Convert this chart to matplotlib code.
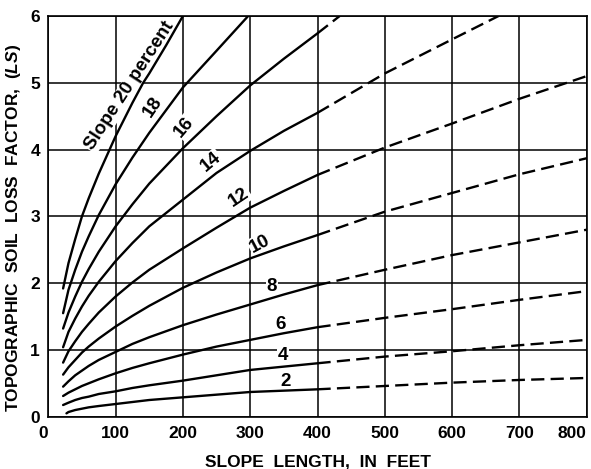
import matplotlib
matplotlib.use("Agg")
import matplotlib.pyplot as plt

plt.rcParams['font.family'] = ['Liberation Sans', 'DejaVu Sans']
plt.rcParams['mathtext.fontset'] = 'custom'
plt.rcParams['mathtext.it'] = 'Liberation Sans:italic:bold'
plt.rcParams['mathtext.rm'] = 'Liberation Sans:bold'
plt.rcParams['lines.scale_dashes'] = False

# ---- data (slope length in feet -> LS factor) ----
slopes = [20, 18, 16, 14, 12, 10, 8, 6, 4, 2]

x20 = [22, 30, 40, 50, 60, 75, 100, 125, 141, 150, 175, 200]
y20 = [1.92, 2.30, 2.66, 3.00, 3.27, 3.64, 4.20, 4.70, 5.00, 5.14, 5.56, 6.00]

x18 = [22, 30, 40, 50, 60, 75, 100, 125, 150, 200, 250, 297]
y18 = [1.55, 1.90, 2.20, 2.47, 2.70, 3.02, 3.48, 3.88, 4.25, 4.93, 5.48, 6.00]

x16 = [22, 30, 40, 50, 60, 75, 100, 125, 150, 200, 250, 300, 350, 400, 433]
y16 = [1.32, 1.56, 1.80, 2.02, 2.21, 2.47, 2.85, 3.18, 3.49, 4.02, 4.50, 4.96, 5.36, 5.74, 6.00]

x14 = [22, 30, 40, 50, 60, 75, 100, 125, 150, 200, 250, 300, 350, 400, 500, 600, 669]
y14 = [1.04, 1.27, 1.47, 1.65, 1.81, 2.02, 2.33, 2.60, 2.85, 3.25, 3.65, 3.98, 4.28, 4.55, 5.14, 5.65, 6.00]

x_full = [22, 30, 40, 50, 60, 75, 100, 125, 150, 200, 250, 300, 350, 400, 500, 600, 700, 800]
y12 = [0.81, 0.98, 1.13, 1.27, 1.39, 1.56, 1.80, 2.01, 2.20, 2.52, 2.83, 3.13, 3.38, 3.62, 4.03, 4.39, 4.76, 5.10]
y10 = [0.63, 0.74, 0.85, 0.96, 1.05, 1.17, 1.35, 1.51, 1.66, 1.93, 2.16, 2.37, 2.55, 2.72, 3.07, 3.35, 3.63, 3.87]
y8 = [0.45, 0.53, 0.62, 0.69, 0.76, 0.85, 0.97, 1.09, 1.19, 1.37, 1.53, 1.68, 1.83, 1.97, 2.20, 2.42, 2.61, 2.80]
y6 = [0.31, 0.36, 0.41, 0.46, 0.50, 0.56, 0.65, 0.73, 0.80, 0.93, 1.05, 1.15, 1.25, 1.34, 1.48, 1.61, 1.75, 1.88]
y4 = [0.175, 0.21, 0.25, 0.28, 0.30, 0.34, 0.38, 0.43, 0.47, 0.54, 0.62, 0.70, 0.75, 0.80, 0.90, 0.98, 1.07, 1.15]

x2 = [27, 30, 40, 50, 60, 75, 100, 125, 150, 200, 250, 300, 350, 400, 500, 600, 700, 800]
y2 = [0.05, 0.07, 0.10, 0.12, 0.14, 0.16, 0.19, 0.22, 0.25, 0.29, 0.33, 0.37, 0.39, 0.41, 0.46, 0.51, 0.55, 0.58]

curves = [(x20, y20), (x18, y18), (x16, y16), (x14, y14), (x_full, y12),
          (x_full, y10), (x_full, y8), (x_full, y6), (x_full, y4), (x2, y2)]

solid_limit = 400

label_texts = ["Slope 20 percent", "18", "16", "14", "12", "10", "8", "6", "4", "2"]
label_pos = [(121, 4.95), (156, 4.64), (202, 4.34), (242, 3.82), (284, 3.29),
             (314, 2.59), (332, 1.95), (345, 1.38), (349, 0.91), (353, 0.53)]
label_rot = [57, 56, 50, 40, 34, 28, 0, 0, 0, 0]

x_ticks = [0, 100, 200, 300, 400, 500, 600, 700, 800]
y_ticks = [0, 1, 2, 3, 4, 5, 6]

# ---- figure ----
W, H = 591, 469
fig = plt.figure(figsize=(W / 100, H / 100), dpi=100)
L, R, T, B = 48.3, 586.7, 16.0, 416.7
ax = fig.add_axes([L / W, 1 - B / H, (R - L) / W, (B - T) / H])
ax.set_xlim(0, 800)
ax.set_ylim(0, 6)
ax.set_xticks(x_ticks)
ax.set_yticks(y_ticks)
ax.grid(True, color='black', lw=1.1, zorder=1)
ax.set_axisbelow(True)
for s in ax.spines.values():
    s.set_linewidth(1.2)
ax.tick_params(length=0, labelsize=12.5)
ax.tick_params(axis='x', pad=7)
ax.tick_params(axis='y', pad=6)
for lab in ax.get_xticklabels() + ax.get_yticklabels():
    lab.set_fontweight('bold')

for xs, ys in curves:
    sx = [x for x in xs if x <= solid_limit]
    sy = [y for x, y in zip(xs, ys) if x <= solid_limit]
    ax.plot(sx, sy, color='black', lw=1.7, solid_capstyle='round', zorder=3)
    dx = [x for x in xs if x >= solid_limit]
    dy = [y for x, y in zip(xs, ys) if x >= solid_limit]
    if len(dx) > 1:
        ax.plot(dx, dy, color='black', lw=1.7, dashes=(9.5, 4.5), zorder=3)

for txt, (lx, ly), rot in zip(label_texts, label_pos, label_rot):
    ax.text(lx, ly, txt, rotation=rot, rotation_mode='anchor', ha='center', va='center',
            fontsize=13.5, fontweight='bold', zorder=2,
            bbox=dict(facecolor='white', edgecolor='none', pad=0.5))

xl = ax.get_xticklabels()
xl[0].set_ha('right')
xl[-1].set_ha('right')

fig.text(318 / W, 1 - 462 / H, "SLOPE  LENGTH,  IN  FEET", ha='center', va='center',
         fontsize=12.5, fontweight='bold')
fig.text(14 / W, 1 - 228 / H, r"TOPOGRAPHIC  SOIL  LOSS  FACTOR,  ($\mathit{LS}$)",
         rotation=90, ha='center', va='center', fontsize=12.5, fontweight='bold')

fig.savefig("out.png", dpi=100)
